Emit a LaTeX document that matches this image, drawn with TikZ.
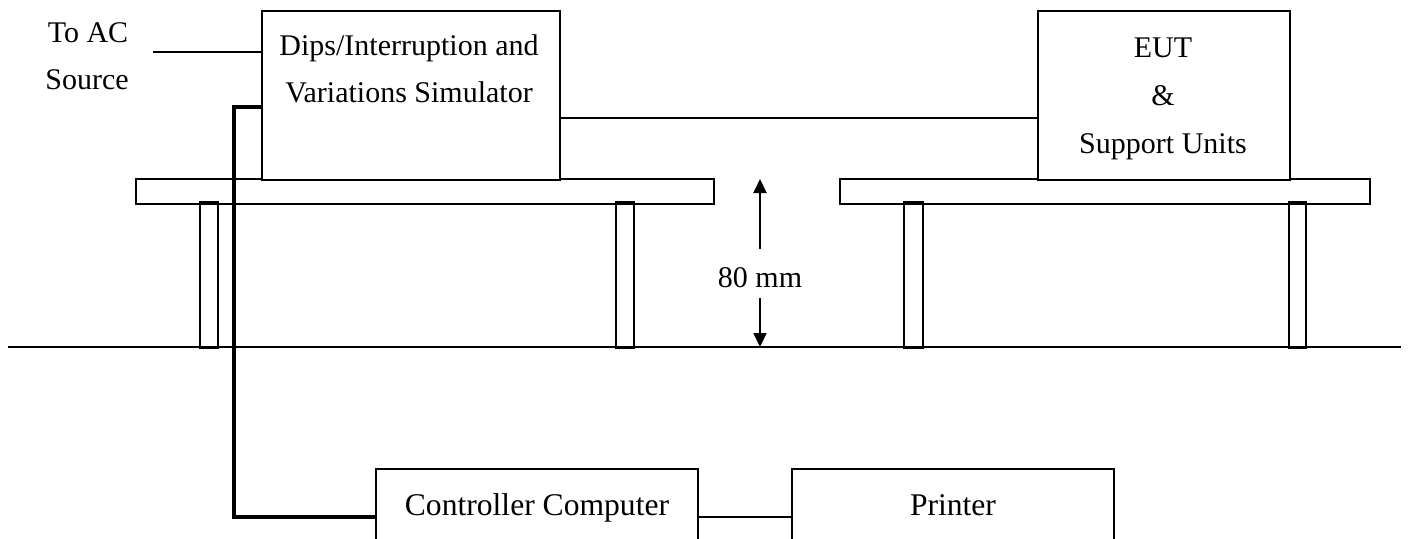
\documentclass[tikz,border=0pt]{standalone}
\usepackage{fontspec}
\setmainfont{Liberation Serif}
\usetikzlibrary{arrows.meta}
\begin{document}
\begin{tikzpicture}[x=0.5pt,y=-0.5pt,
  box/.style={draw,line width=1pt,inner sep=0pt,fill=white},
  txt/.style={inner sep=0pt,anchor=base,font=\fontsize{15}{18}\selectfont},
  thinline/.style={line width=1pt},
  heavyline/.style={line width=1.7pt},
  plank/.style={draw,line width=1pt},
  dimarrow/.style={line width=1pt,-{Triangle[length=7pt,width=6.5pt]}}]
\useasboundingbox (0,0) rectangle (1410,538);
\clip (0,0) rectangle (1410,538);
% ground
\coordinate (gl) at (8,347);
\coordinate (gr) at (1401,347);
\draw[thinline] (gl) -- (gr);
% tables
\draw[plank] (136,179) rectangle (714,204);
\draw[plank] (840,179) rectangle (1370,204);
\draw[plank] (200,202) rectangle (218,348);
\draw[plank] (616,202) rectangle (634,348);
\draw[plank] (904,202) rectangle (923,348);
\draw[plank] (1289,202) rectangle (1306,348);
% boxes
\node[box,minimum width=149pt,minimum height=84.5pt] (sim) at (411,95.5) {};
\node[box,minimum width=126pt,minimum height=84.5pt] (eut) at (1164,95.5) {};
\node[box,minimum width=161pt,minimum height=48pt,font=\fontsize{15.8}{18}\selectfont,text height=8pt,text depth=10pt] (ctrl) at (537,517) {Controller Computer};
\node[box,minimum width=161pt,minimum height=48pt,font=\fontsize{15.8}{18}\selectfont,text height=8pt,text depth=10pt] (prn) at (953,517) {Printer};
% texts
\node[txt] (toac) at (88,42) {To AC};
\node[txt] (source) at (87,89) {Source};
\node[txt] (sim1) at (409,55) {Dips/Interruption and};
\node[txt] (sim2) at (409,102) {Variations Simulator};
\node[txt] (eut1) at (1163,57) {EUT};
\node[txt] (eut2) at (1163,105) {\&};
\node[txt] (eut3) at (1163,153) {Support Units};
% dimension
\node[inner sep=0pt,minimum height=24.5pt,text height=13.5pt,text depth=0pt,font=\fontsize{15}{18}\selectfont] (mm) at (760,273.5) {80 mm};
\coordinate (dimtop) at (760,179);
\coordinate (dimbot) at (760,347);
\draw[dimarrow] (mm.north) -- (dimtop);
\draw[dimarrow] (mm.south) -- (dimbot);
% connectors
\coordinate (acend) at (153,52);
\draw[thinline] (acend) -- (acend -| sim.west);
\coordinate (link) at (0,118);
\draw[thinline] (link -| sim.east) -- (link -| eut.west);
\coordinate (bend) at (234,107);
\draw[heavyline] (bend -| sim.west) -- (bend) |- (ctrl.west);
\draw[thinline] (ctrl.east) -- (prn.west);
\end{tikzpicture}
\end{document}
